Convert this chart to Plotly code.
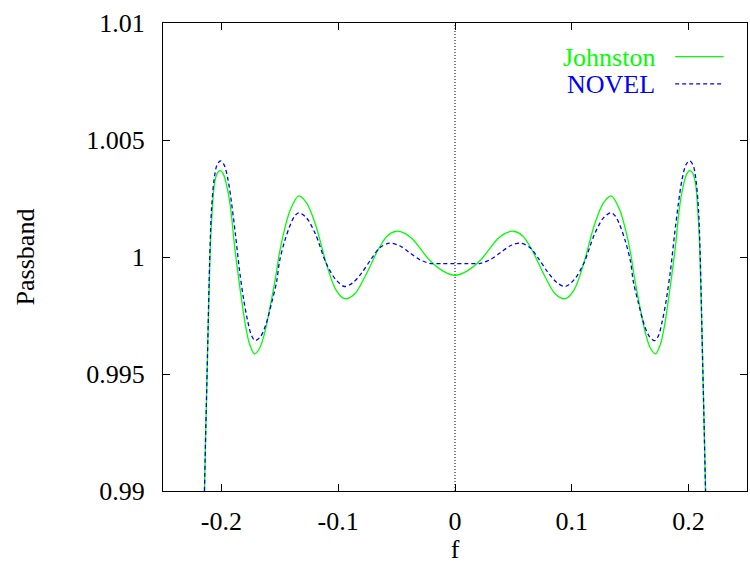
import plotly.graph_objects as go

# Passband response of the two filter designs (frequency f, magnitude)
f_johnston = [-0.2145, -0.2134, -0.2122, -0.2096, -0.2082, -0.2059, -0.2033, -0.2008,
              -0.1982, -0.1948, -0.1918, -0.1888, -0.1830, -0.1794, -0.1759, -0.1716,
              -0.1674, -0.1631, -0.1579, -0.1536, -0.1502, -0.1459, -0.1408, -0.1337,
              -0.1271, -0.1194, -0.1102, -0.1022, -0.0945, -0.0859, -0.0765, -0.0656,
              -0.0580, -0.0502, -0.0430, -0.0362, -0.0217, -0.0105, 0.0,
              0.0105, 0.0217, 0.0362, 0.0430, 0.0502, 0.0580, 0.0656, 0.0765,
              0.0859, 0.0945, 0.1022, 0.1102, 0.1194, 0.1271, 0.1337, 0.1408,
              0.1459, 0.1502, 0.1536, 0.1579, 0.1631, 0.1674, 0.1716, 0.1759,
              0.1794, 0.1830, 0.1888, 0.1918, 0.1948, 0.1982, 0.2008, 0.2033,
              0.2059, 0.2082, 0.2096, 0.2122, 0.2134, 0.2145]
v_johnston = [0.99000, 0.99257, 0.99514, 1.00029, 1.00171, 1.00315, 1.00361, 1.00369,
              1.00353, 1.00290, 1.00196, 1.00050, 0.99827, 0.99707, 0.99628, 0.99586,
              0.99609, 0.99673, 0.99797, 0.99913, 1.00020, 1.00119, 1.00204, 1.00261,
              1.00231, 1.00138, 0.99972, 0.99862, 0.99822, 0.99842, 0.99922, 1.00033,
              1.00090, 1.00110, 1.00101, 1.00076, 0.99986, 0.99941, 0.99922,
              0.99941, 0.99986, 1.00076, 1.00101, 1.00110, 1.00090, 1.00033, 0.99922,
              0.99842, 0.99822, 0.99862, 0.99972, 1.00138, 1.00231, 1.00261, 1.00204,
              1.00119, 1.00020, 0.99913, 0.99797, 0.99673, 0.99609, 0.99586, 0.99628,
              0.99707, 0.99827, 1.00050, 1.00196, 1.00290, 1.00353, 1.00369, 1.00361,
              1.00315, 1.00171, 1.00029, 0.99514, 0.99257, 0.99000]

f_novel = [-0.2145, -0.2134, -0.2122, -0.2098, -0.2085, -0.2063, -0.2038, -0.2008,
           -0.1978, -0.1943, -0.1913, -0.1879, -0.1845, -0.1808, -0.1776, -0.1742,
           -0.1710, -0.1665, -0.1622, -0.1571, -0.1528, -0.1502, -0.1459, -0.1408,
           -0.1374, -0.1337, -0.1271, -0.1194, -0.1102, -0.1022, -0.0945, -0.0877,
           -0.0799, -0.0714, -0.0645, -0.0560, -0.0474, -0.0388, -0.0302, -0.0217,
           -0.0105, 0.0,
           0.0105, 0.0217, 0.0302, 0.0388, 0.0474, 0.0560, 0.0645, 0.0714,
           0.0799, 0.0877, 0.0945, 0.1022, 0.1102, 0.1194, 0.1271, 0.1337,
           0.1374, 0.1408, 0.1459, 0.1502, 0.1528, 0.1571, 0.1622, 0.1665,
           0.1710, 0.1742, 0.1776, 0.1808, 0.1845, 0.1879, 0.1913, 0.1943,
           0.1978, 0.2008, 0.2038, 0.2063, 0.2085, 0.2098, 0.2122, 0.2134, 0.2145]
v_novel = [0.99000, 0.99257, 0.99514, 1.00029, 1.00200, 1.00329, 1.00393, 1.00411,
           1.00395, 1.00329, 1.00230, 1.00093, 0.99943, 0.99814, 0.99729, 0.99664,
           0.99643, 0.99660, 0.99707, 0.99802, 0.99892, 0.99982, 1.00067, 1.00140,
           1.00174, 1.00189, 1.00167, 1.00097, 0.99972, 0.99904, 0.99874, 0.99889,
           0.99932, 0.99994, 1.00039, 1.00059, 1.00048, 1.00018, 0.99989, 0.99973,
           0.99972, 0.99972,
           0.99972, 0.99973, 0.99989, 1.00018, 1.00048, 1.00059, 1.00039, 0.99994,
           0.99932, 0.99889, 0.99874, 0.99904, 0.99972, 1.00097, 1.00167, 1.00189,
           1.00174, 1.00140, 1.00067, 0.99982, 0.99892, 0.99802, 0.99707, 0.99660,
           0.99643, 0.99664, 0.99729, 0.99814, 0.99943, 1.00093, 1.00230, 1.00329,
           1.00395, 1.00411, 1.00393, 1.00329, 1.00200, 1.00029, 0.99514, 0.99257, 0.99000]

x_ticks = [-0.2, -0.1, 0, 0.1, 0.2]
x_tick_text = ["-0.2", "-0.1", "0", "0.1", "0.2"]
y_ticks = [0.99, 0.995, 1.0, 1.005, 1.01]
y_tick_text = ["0.99", "0.995", "1", "1.005", "1.01"]

GREEN = "#00ff00"
BLUE = "#0000ff"
FONT = "Liberation Serif"
SIZE = 26
DASH = "4px,3px"

fig = go.Figure()
fig.add_trace(go.Scatter(x=f_johnston, y=v_johnston, mode="lines", name="Johnston",
                         line=dict(color=GREEN, width=1.3, shape="spline", smoothing=0.9)))
fig.add_trace(go.Scatter(x=f_novel, y=v_novel, mode="lines", name="NOVEL",
                         line=dict(color=BLUE, width=1.3, shape="spline", smoothing=0.9,
                                   dash=DASH)))

# dotted zero axis
fig.add_shape(type="line", xref="x", yref="paper", x0=0, x1=0, y0=0, y1=1,
              line=dict(color="black", width=1, dash="1px,2px"), layer="below")

# key in the top-right corner: right-aligned label followed by a line sample
key = [("Johnston", GREEN, "solid", 0.926, 0.928), ("NOVEL", BLUE, DASH, 0.868, 0.870)]
for label, color, dash, y_text, y_line in key:
    fig.add_annotation(text=label, xref="paper", yref="paper", x=0.846, y=y_text,
                       xanchor="right", yanchor="middle", showarrow=False,
                       font=dict(family=FONT, size=SIZE, color=color))
    fig.add_shape(type="line", xref="paper", yref="paper", x0=0.877, x1=0.960,
                  y0=y_line, y1=y_line, line=dict(color=color, width=1.3, dash=dash))

axis_common = dict(showline=True, linecolor="black", linewidth=1, mirror="ticks",
                   ticks="inside", ticklen=7, tickcolor="black", tickwidth=1,
                   showgrid=False, zeroline=False,
                   tickfont=dict(family=FONT, size=SIZE, color="black"))

fig.update_xaxes(range=[-0.25, 0.25], tickvals=x_ticks, ticktext=x_tick_text,
                 ticklabelstandoff=7,
                 title=dict(text="f", font=dict(family=FONT, size=SIZE, color="black"), standoff=3),
                 **axis_common)
fig.update_yaxes(range=[0.99, 1.01], tickvals=y_ticks, ticktext=y_tick_text,
                 ticklabelstandoff=12,
                 title=dict(text="Passband", font=dict(family=FONT, size=SIZE, color="black"),
                            standoff=44),
                 **axis_common)

fig.update_layout(width=750, height=564, showlegend=False,
                  margin=dict(l=163, r=3, t=23, b=73),
                  paper_bgcolor="white", plot_bgcolor="white",
                  font=dict(family=FONT, size=SIZE, color="black"))

fig.write_html("out.html")
